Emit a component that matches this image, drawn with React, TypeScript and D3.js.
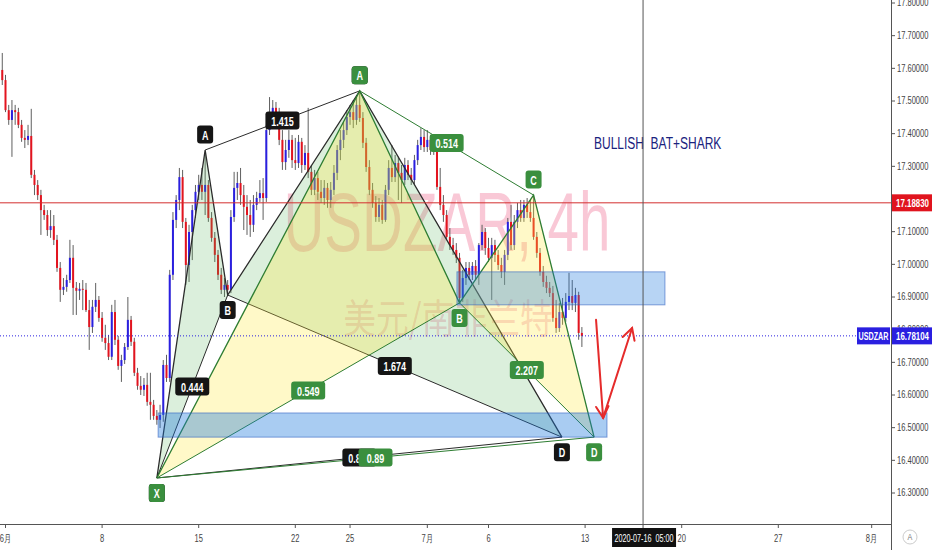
import React from "react";
import * as d3 from "d3";

const W = 932;
const H = 550;
const PLOT_RIGHT = 891;
const PLOT_BOTTOM = 524;
const FONT = "'Liberation Sans', Arial, sans-serif";
const SQ = 0.72;

const SYMBOL = "USDZAR";
const WATERMARK = "USDZAR, 4h";
const WATERMARK_CN = "美元/南非兰特";
const TITLE = "BULLISH  BAT+SHARK";
const CROSS_DATE = "2020-07-16  05:00";
const CROSS_BAR = 198;

const FIRST_BAR = -1;
const FIRST_OPEN = 17.595;
const CLOSE = [
  17.564, 17.472, 17.442, 17.472, 17.466, 17.427, 17.387, 17.381, 17.393, 17.274,
  17.243, 17.212, 17.166, 17.151, 17.105, 17.117, 17.075, 16.989, 16.922, 16.931,
  16.952, 17.020, 16.928, 16.919, 16.925, 16.922, 16.860, 16.808, 16.870, 16.891,
  16.836, 16.775, 16.759, 16.717, 16.854, 16.769, 16.689, 16.707, 16.747, 16.830,
  16.763, 16.668, 16.628, 16.616, 16.631, 16.579, 16.570, 16.536, 16.524, 16.539,
  16.692, 16.652, 16.968, 17.136, 17.197, 17.267, 17.130, 16.998, 17.099, 17.166,
  17.222, 17.243, 17.222, 17.243, 17.142, 17.081, 17.029, 16.968, 16.922, 16.937,
  16.922, 17.145, 17.234, 17.249, 17.212, 17.176, 17.151, 17.121, 17.182, 17.203,
  17.218, 17.203, 17.411, 17.436, 17.479, 17.442, 17.381, 17.313, 17.350, 17.381,
  17.319, 17.310, 17.375, 17.304, 17.341, 17.283, 17.228, 17.264, 17.222, 17.203,
  17.234, 17.197, 17.228, 17.280, 17.350, 17.381, 17.411, 17.451, 17.466, 17.442,
  17.488, 17.448, 17.372, 17.298, 17.228, 17.188, 17.145, 17.182, 17.136, 17.228,
  17.295, 17.267, 17.310, 17.280, 17.258, 17.304, 17.274, 17.258, 17.319, 17.365,
  17.390, 17.359, 17.381, 17.350, 17.372, 17.237, 17.182, 17.151, 17.084, 17.059,
  17.044, 17.020, 16.897, 16.958, 16.989, 16.968, 16.995, 16.968, 17.059, 17.099,
  17.050, 17.020, 17.059, 17.029, 16.998, 16.977, 17.029, 17.130, 17.059, 17.130,
  17.166, 17.142, 17.182, 17.160, 17.142, 17.084, 17.035, 16.977, 16.946, 16.928,
  16.912, 16.836, 16.805, 16.854, 16.836, 16.885, 16.903, 16.882, 16.906, 16.790,
  16.781,
];
const HIGH = [
  17.647, 17.580, 17.488, 17.503, 17.488, 17.479, 17.442, 17.411, 17.427, 17.476,
  17.289, 17.258, 17.228, 17.182, 17.166, 17.166, 17.151, 17.090, 17.007, 16.958,
  16.968, 17.075, 17.059, 16.946, 16.943, 16.952, 16.943, 16.891, 16.891, 16.943,
  16.903, 16.854, 16.815, 16.784, 16.876, 16.891, 16.781, 16.723, 16.759, 16.900,
  16.842, 16.775, 16.683, 16.658, 16.652, 16.668, 16.668, 16.585, 16.554, 16.570,
  16.707, 16.723, 16.983, 17.160, 17.212, 17.295, 17.289, 17.142, 17.121, 17.182,
  17.243, 17.274, 17.295, 17.335, 17.258, 17.160, 17.099, 17.044, 16.989, 16.958,
  16.952, 17.166, 17.283, 17.283, 17.295, 17.243, 17.212, 17.197, 17.212, 17.222,
  17.258, 17.264, 17.427, 17.512, 17.503, 17.497, 17.479, 17.411, 17.381, 17.411,
  17.396, 17.387, 17.396, 17.387, 17.365, 17.479, 17.304, 17.289, 17.283, 17.258,
  17.258, 17.249, 17.252, 17.304, 17.365, 17.411, 17.436, 17.472, 17.488, 17.503,
  17.518, 17.528, 17.466, 17.387, 17.319, 17.249, 17.209, 17.203, 17.197, 17.243,
  17.319, 17.365, 17.335, 17.329, 17.304, 17.326, 17.319, 17.295, 17.335, 17.381,
  17.417, 17.411, 17.411, 17.396, 17.387, 17.381, 17.295, 17.212, 17.166, 17.111,
  17.081, 17.065, 17.035, 16.983, 17.007, 17.007, 17.007, 17.013, 17.065, 17.121,
  17.111, 17.081, 17.081, 17.075, 17.044, 17.020, 17.044, 17.142, 17.182, 17.151,
  17.188, 17.197, 17.197, 17.203, 17.197, 17.212, 17.099, 17.050, 16.995, 16.965,
  16.946, 16.934, 16.891, 16.882, 16.897, 16.912, 16.974, 16.952, 16.928, 16.916,
  16.808,
];
const LOW = [
  17.549, 17.466, 17.427, 17.329, 17.427, 17.417, 17.375, 17.356, 17.365, 17.264,
  17.212, 17.197, 17.090, 17.136, 17.087, 17.081, 17.059, 16.977, 16.885, 16.906,
  16.916, 16.943, 16.845, 16.845, 16.891, 16.860, 16.854, 16.738, 16.790, 16.854,
  16.824, 16.763, 16.738, 16.707, 16.707, 16.753, 16.677, 16.640, 16.695, 16.738,
  16.750, 16.658, 16.616, 16.600, 16.597, 16.567, 16.524, 16.524, 16.509, 16.499,
  16.518, 16.640, 16.640, 16.952, 17.111, 17.166, 17.111, 16.937, 16.946, 17.013,
  17.142, 17.197, 17.197, 17.151, 17.130, 17.069, 17.007, 16.952, 16.909, 16.900,
  16.903, 16.912, 17.130, 17.197, 17.182, 17.105, 17.090, 17.084, 17.099, 17.166,
  17.191, 17.136, 17.191, 17.396, 17.417, 17.427, 17.365, 17.289, 17.289, 17.326,
  17.295, 17.289, 17.295, 17.280, 17.289, 17.264, 17.212, 17.212, 17.197, 17.188,
  17.182, 17.173, 17.173, 17.212, 17.258, 17.319, 17.356, 17.396, 17.427, 17.417,
  17.427, 17.436, 17.356, 17.283, 17.212, 17.173, 17.130, 17.130, 17.124, 17.130,
  17.212, 17.252, 17.252, 17.197, 17.188, 17.243, 17.258, 17.243, 17.246, 17.304,
  17.350, 17.344, 17.344, 17.335, 17.335, 17.228, 17.166, 17.130, 17.075, 17.044,
  17.029, 17.004, 16.885, 16.885, 16.937, 16.952, 16.952, 16.952, 16.937, 17.044,
  17.029, 17.007, 16.891, 17.007, 16.983, 16.958, 16.937, 17.013, 17.044, 17.044,
  17.111, 17.130, 17.130, 17.142, 17.130, 17.075, 17.020, 16.965, 16.931, 16.912,
  16.900, 16.824, 16.790, 16.793, 16.815, 16.824, 16.860, 16.860, 16.854, 16.769,
  16.747,
];

const PRICE_TICKS = [17.8, 17.7, 17.6, 17.5, 17.4, 17.3, 17.2, 17.1, 17.0, 16.9, 16.8, 16.7, 16.6, 16.5, 16.4, 16.3];
const TIME_TICK_LABELS = ["6月", "8", "15", "22", "25", "7月", "6", "13", "20", "27", "8月"];
const TIME_TICK_BARS = [0, 30, 60, 90, 107, 131, 150, 180, 210, 240, 269];

const CURRENT_PRICE = 16.78104;
const LEVEL_PRICE = 17.1883;

const POINT_NAMES = ["X", "A", "B", "C", "D"];
const BLACK_BARS = [47, 62, 69, 110, 172.8];
const BLACK_PRICES = [16.346, 17.35, 16.906, 17.531, 16.471];
const BLACK_RATIOS = ["0.444", "1.415", "1.674", "0.886"];
const GREEN_BARS = [47, 110, 141, 164, 182.8];
const GREEN_PRICES = [16.346, 17.531, 16.882, 17.212, 16.471];
const GREEN_RATIOS = ["0.549", "0.514", "2.207", "0.89"];

const ZONE_1 = { bar0: 47.4, bar1: 186.8, p0: 16.545, p1: 16.471 };
const ZONE_2 = { bar0: 140.2, bar1: 204.8, p0: 16.977, p1: 16.876 };

const ARROW_BARS = [183.4, 185.6, 194.6];
const ARROW_PRICES = [16.83, 16.53, 16.805];

const x = d3.scaleLinear().domain([0, 100]).range([5.5, 327.5]);
const y = d3.scaleLinear().domain([16.3, 17.8]).range([493, 3]);

const candles = CLOSE.map((c, i) => ({
  bar: FIRST_BAR + i,
  open: i === 0 ? FIRST_OPEN : CLOSE[i - 1],
  high: HIGH[i],
  low: LOW[i],
  close: c,
}));

function Txt({ x: tx, y: ty, sx = SQ, anchor = "start", size = 11, weight = "normal", fill = "#333", family = FONT, children }: any) {
  return (
    <g transform={`translate(${tx},${ty}) scale(${sx},1)`}>
      <text textAnchor={anchor} fontSize={size} fontWeight={weight} fill={fill} fontFamily={family}
        dominantBaseline="central" xmlSpace="preserve" style={{ whiteSpace: "pre" }}>
        {children}
      </text>
    </g>
  );
}

function Pattern({ bars, prices, fillColor, lineColor }: any) {
  const pts = bars.map((b: number, i: number) => [x(b), y(prices[i])]);
  const line = d3.line();
  const tri1 = line([pts[0], pts[1], pts[2], pts[0]]) as string;
  const tri2 = line([pts[2], pts[3], pts[4], pts[2]]) as string;
  const legs = line(pts) as string;
  const diag = [
    [pts[0], pts[2]],
    [pts[1], pts[3]],
    [pts[2], pts[4]],
    [pts[0], pts[4]],
  ];
  return (
    <g>
      <path d={tri1} fill={fillColor} stroke="none" />
      <path d={tri2} fill={fillColor} stroke="none" />
      {diag.map((d, i) => (
        <path key={i} d={line(d as any) as string} stroke={lineColor} strokeWidth={1} fill="none" />
      ))}
      <path d={legs} stroke={lineColor} strokeWidth={1.3} fill="none" />
    </g>
  );
}

function PatternLabels({ bars, prices, labelColor, ratios }: any) {
  const pts = bars.map((b: number, i: number) => [x(b), y(prices[i])]);
  const pairs = [[0, 2], [1, 3], [2, 4], [0, 4]];
  return (
    <g>
      {pairs.map(([a, b], i) => {
        const cx = (pts[a][0] + pts[b][0]) / 2;
        const cy = (pts[a][1] + pts[b][1]) / 2;
        const w = 34;
        return (
          <g key={"r" + i}>
            <rect x={cx - w / 2} y={cy - 9} width={w} height={18} rx={3} fill={labelColor} />
            <Txt x={cx} y={cy + 0.5} anchor="middle" size={12.5} weight="bold" fill="#fff">{ratios[i]}</Txt>
          </g>
        );
      })}
      {pts.map((p: number[], i: number) => {
        const isHigh = i === 1 || i === 3;
        const cy = isHigh ? p[1] - 15.5 : p[1] + 15;
        return (
          <g key={"p" + i}>
            <rect x={p[0] - 8} y={cy - 9} width={16} height={18} rx={3} fill={labelColor} />
            <Txt x={p[0]} y={cy + 0.5} anchor="middle" size={12.5} weight="bold" fill="#fff">{POINT_NAMES[i]}</Txt>
          </g>
        );
      })}
    </g>
  );
}

function Arrow({ from, to }: any) {
  const [x1, y1] = from;
  const [x2, y2] = to;
  const ang = Math.atan2(y2 - y1, x2 - x1);
  const L = 13;
  const a1 = ang + Math.PI - 0.5;
  const a2 = ang + Math.PI + 0.5;
  return (
    <g stroke="#e52b2b" strokeWidth={2} fill="none" strokeLinecap="round">
      <line x1={x1} y1={y1} x2={x2} y2={y2} />
      <polyline points={`${x2 + L * Math.cos(a1)},${y2 + L * Math.sin(a1)} ${x2},${y2} ${x2 + L * Math.cos(a2)},${y2 + L * Math.sin(a2)}`} />
    </g>
  );
}

export default function App() {
  const UP = "#2a1fe0";
  const DOWN = "#e3141f";
  const WICK = "#5f5f5f";
  const arrowPts = ARROW_BARS.map((b, i) => [x(b), y(ARROW_PRICES[i])]);
  const curY = y(CURRENT_PRICE);
  const lvlY = y(LEVEL_PRICE);
  const crossX = x(CROSS_BAR);
  // labels fully hidden behind the price boxes are not drawn; partly hidden ones are drawn underneath
  const visibleTicks = PRICE_TICKS.filter((p) => Math.abs(y(p) - lvlY) > 6 && Math.abs(y(p) - curY) > 6);

  return (
    <svg width={W} height={H} style={{ position: "absolute", left: 0, top: 0, background: "#fff" }}>
      <defs>
        <clipPath id="plot">
          <rect x={0} y={0} width={PLOT_RIGHT} height={PLOT_BOTTOM} />
        </clipPath>
      </defs>
      <rect x={0} y={0} width={W} height={H} fill="#fff" />
      <g clipPath="url(#plot)">
        {/* watermark */}
        <Txt x={447} y={222} sx={0.674} anchor="middle" size={84} fill="rgba(232,50,105,0.27)">{WATERMARK}</Txt>
        <Txt x={448} y={316} sx={0.82} anchor="middle" size={40} fill="rgba(232,50,105,0.24)" family="'Noto Sans CJK SC', sans-serif">{WATERMARK_CN}</Txt>

        {/* candles */}
        {candles.map((c) => {
          const cx = x(c.bar);
          const up = c.close >= c.open;
          const top = y(Math.max(c.open, c.close));
          const bot = y(Math.min(c.open, c.close));
          return (
            <g key={c.bar}>
              <line x1={cx} x2={cx} y1={y(Math.max(c.high, c.open, c.close))} y2={y(Math.min(c.low, c.open, c.close))} stroke={WICK} strokeWidth={1} />
              <rect x={cx - 1} y={top} width={2} height={Math.max(1, bot - top)} fill={up ? UP : DOWN} />
            </g>
          );
        })}

        {/* patterns */}
        <Pattern bars={BLACK_BARS} prices={BLACK_PRICES} fillColor="rgba(76,175,80,0.2)" lineColor="#2b2b2b" />
        <Pattern bars={GREEN_BARS} prices={GREEN_PRICES} fillColor="rgba(255,235,59,0.28)" lineColor="#2e7d32" />

        {/* zones */}
        <rect x={x(ZONE_1.bar0)} y={y(ZONE_1.p0)} width={x(ZONE_1.bar1) - x(ZONE_1.bar0)} height={y(ZONE_1.p1) - y(ZONE_1.p0)}
          fill="rgba(30,120,220,0.38)" stroke="rgba(40,90,190,0.55)" strokeWidth={1} />
        <rect x={x(ZONE_2.bar0)} y={y(ZONE_2.p0)} width={x(ZONE_2.bar1) - x(ZONE_2.bar0)} height={y(ZONE_2.p1) - y(ZONE_2.p0)}
          fill="rgba(30,120,220,0.32)" stroke="rgba(40,90,190,0.55)" strokeWidth={1} />

        {/* level line and current price */}
        <line x1={0} x2={PLOT_RIGHT} y1={lvlY} y2={lvlY} stroke="#d32f2f" strokeWidth={1} />
        <line x1={0} x2={PLOT_RIGHT} y1={curY} y2={curY} stroke={UP} strokeWidth={1} strokeDasharray="1,2" />

        <PatternLabels bars={BLACK_BARS} prices={BLACK_PRICES} labelColor="#151515" ratios={BLACK_RATIOS} />
        <PatternLabels bars={GREEN_BARS} prices={GREEN_PRICES} labelColor="#3a8f3e" ratios={GREEN_RATIOS} />

        <Arrow from={arrowPts[0]} to={arrowPts[1]} />
        <Arrow from={arrowPts[1]} to={arrowPts[2]} />

        <Txt x={594} y={143} sx={0.75} size={16} fill="#1a237e">{TITLE}</Txt>

        {/* crosshair vertical */}
        <line x1={crossX} x2={crossX} y1={0} y2={PLOT_BOTTOM} stroke="#555" strokeWidth={1} />
      </g>

      {/* axes lines */}
      <line x1={0} x2={PLOT_RIGHT} y1={PLOT_BOTTOM + 0.5} y2={PLOT_BOTTOM + 0.5} stroke="#555" strokeWidth={1} />
      <line x1={PLOT_RIGHT + 0.5} x2={PLOT_RIGHT + 0.5} y1={0} y2={H} stroke="#555" strokeWidth={1} />

      {/* right axis ticks */}
      {PRICE_TICKS.map((p) => (
        <line key={"t" + p} x1={PLOT_RIGHT} x2={PLOT_RIGHT + 4} y1={y(p)} y2={y(p)} stroke="#555" />
      ))}
      {visibleTicks.map((p) => (
        <Txt key={p} x={897} y={y(p)} sx={SQ} size={10.5} fill="#444">{p.toFixed(5)}</Txt>
      ))}

      {/* bottom axis ticks */}
      {TIME_TICK_BARS.map((b, i) => (
        <g key={b}>
          <line x1={x(b)} x2={x(b)} y1={PLOT_BOTTOM} y2={PLOT_BOTTOM + 4} stroke="#555" />
          <Txt x={x(b)} y={539} sx={SQ} anchor="middle" size={10.5} fill="#444">{TIME_TICK_LABELS[i]}</Txt>
        </g>
      ))}

      {/* level label */}
      <rect x={PLOT_RIGHT + 1} y={lvlY - 8.5} width={W - PLOT_RIGHT - 1} height={17} fill="#e0141e" />
      <Txt x={896} y={lvlY + 0.5} sx={SQ} size={11} weight="bold" fill="#fff">{LEVEL_PRICE.toFixed(5)}</Txt>

      {/* current price label */}
      <rect x={857} y={curY - 8.5} width={33} height={17} fill={UP} />
      <Txt x={873.5} y={curY + 0.5} sx={SQ} anchor="middle" size={10} weight="bold" fill="#fff">{SYMBOL}</Txt>
      <rect x={PLOT_RIGHT + 1} y={curY - 8.5} width={W - PLOT_RIGHT - 1} height={17} fill={UP} />
      <Txt x={896} y={curY + 0.5} sx={SQ} size={11} weight="bold" fill="#fff">{CURRENT_PRICE.toFixed(5)}</Txt>

      {/* crosshair date label */}
      <line x1={crossX} x2={crossX} y1={PLOT_BOTTOM} y2={529} stroke="#555" />
      <rect x={crossX - 31} y={528} width={64} height={19} fill="#111" />
      <Txt x={crossX + 1} y={538} sx={0.66} anchor="middle" size={11} fill="#fff">{CROSS_DATE}</Txt>

      {/* auto-scale button */}
      <circle cx={910} cy={537} r={7} fill="#fff" stroke="#ccc" />
      <Txt x={910} y={537.5} sx={0.8} anchor="middle" size={9} fill="#777">A</Txt>
    </svg>
  );
}
